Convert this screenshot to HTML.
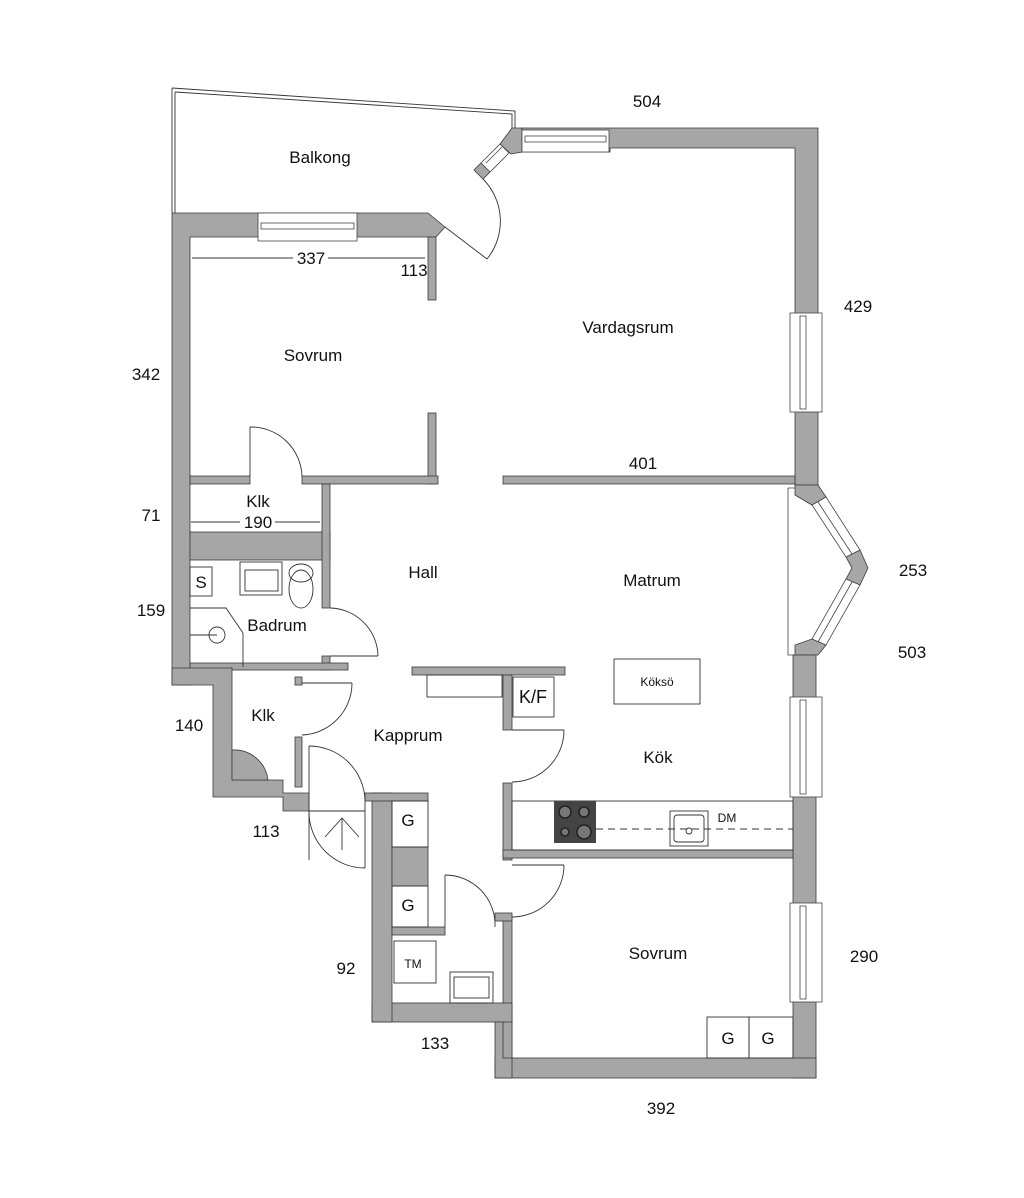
<!DOCTYPE html>
<html><head><meta charset="utf-8"><style>
html,body{margin:0;padding:0;background:#fff;}
svg{display:block;}
text{font-family:"Liberation Sans",sans-serif;fill:#111;}
</style></head><body>
<svg width="1024" height="1198" viewBox="0 0 1024 1198" xmlns="http://www.w3.org/2000/svg">
<!-- balcony rail (double thin line) -->
<g fill="none" stroke="#333" stroke-width="0.9">
<path d="M172 88 L515 111 L515 128"/>
<path d="M175 92 L512 114 L512 130"/>
<path d="M172 88 L172 213"/>
<path d="M175 92 L175 213"/>
</g>
<g fill="#a6a6a6" stroke="#3a3a3a" stroke-width="0.8">
<!-- top-left wall -->
<polygon points="172,213 428,213 445,227 436,237 190,237 190,685 172,685"/>
<rect x="428" y="237" width="8" height="63"/>
<rect x="428" y="413" width="8" height="71"/>
<!-- diagonal corner blocks -->
<polygon points="474,170 481,163 490,172 483,179"/>
<polygon points="500,144 512,128 522,128 522,152 511,154"/>
<!-- top right wall -->
<polygon points="522,128 818,128 818,485 795,485 795,148 610,148 610,152 522,152"/>
<!-- bay blocks -->
<polygon points="795,485 818,485 826,497 812,505 795,495"/>
<polygon points="846,557 860,550 868,568 860,585 846,579 852,568"/>
<polygon points="812,639 826,645 818,655 795,655 795,645"/>
<!-- right wall lower -->
<rect x="793" y="655" width="23" height="423"/>
<rect x="495" y="1058" width="321" height="20"/>
<rect x="495" y="1005" width="17" height="73"/>
<rect x="503" y="917" width="9" height="141"/>
<rect x="372" y="1003" width="140" height="19"/>
<rect x="372" y="793" width="20" height="229"/>
<rect x="365" y="793" width="63" height="8"/>
<rect x="392" y="847" width="36" height="39"/>
<rect x="392" y="927" width="53" height="8"/>
<rect x="495" y="913" width="17" height="8"/>
<!-- sovrum bottom walls -->
<rect x="190" y="476" width="60" height="8"/>
<rect x="302" y="476" width="136" height="8"/>
<rect x="503" y="476" width="292" height="8"/>
<!-- klk / badrum -->
<rect x="190" y="532" width="140" height="28"/>
<rect x="322" y="484" width="8" height="124"/>
<rect x="322" y="656" width="8" height="14"/>
<rect x="190" y="663" width="158" height="7"/>
<polygon points="172,685 172,668 232,668 232,780 283,780 283,793 309,793 309,811 283,811 283,797 213,797 213,685"/>
<rect x="295" y="677" width="7" height="8"/>
<rect x="295" y="737" width="7" height="50"/>
<path d="M232 750 A34 34 0 0 1 268 780 L232 780 Z"/>
<!-- hall/kapprum wall -->
<rect x="412" y="667" width="153" height="8"/>
<rect x="503" y="675" width="9" height="55"/>
<rect x="503" y="783" width="9" height="77"/>
<rect x="503" y="850" width="290" height="8"/>
</g>
<!-- windows -->
<g fill="#fff" stroke="#444" stroke-width="0.8">
<rect x="258" y="213" width="99" height="28"/>
<rect x="261" y="223" width="93" height="6"/>
<rect x="522" y="130" width="87" height="22"/>
<rect x="525" y="136" width="81" height="6"/>
<rect x="790" y="313" width="32" height="99"/>
<rect x="800" y="316" width="6" height="93"/>
<rect x="790" y="697" width="32" height="100"/>
<rect x="800" y="700" width="6" height="94"/>
<rect x="790" y="903" width="32" height="99"/>
<rect x="800" y="906" width="6" height="93"/>
<polygon points="812,505 826,497 860,550 846,557"/>
<line x1="818" y1="502" x2="852" y2="554"/>
<polygon points="846,579 860,585 826,645 812,639"/>
<line x1="852" y1="582" x2="818" y2="642"/>
<polygon points="481,163 500,144 509,153 490,172"/>
<line x1="486" y1="163" x2="502" y2="147"/>
<polyline points="795,488 788,488 788,655 795,655" fill="none"/>
</g>
<g fill="none" stroke="#333" stroke-width="0.9">
<!-- balcony door -->
<line x1="445" y1="227" x2="487" y2="259"/>
<path d="M483 179 A60 60 0 0 1 487 259"/>
<!-- sovrum door -->
<line x1="250" y1="476" x2="250" y2="427"/>
<path d="M250 427 A51 51 0 0 1 302 476"/>
<!-- badrum door -->
<line x1="330" y1="656" x2="378" y2="656"/>
<path d="M330 608 A49 49 0 0 1 378 656"/>
<!-- klk door -->
<line x1="302" y1="683" x2="352" y2="683"/>
<path d="M352 683 A52 52 0 0 1 302 735"/>
<!-- entry door -->
<line x1="309" y1="746" x2="309" y2="860"/>
<path d="M309 746 A56 56 0 0 1 365 800 L365 868"/>
<path d="M309 811 A56 56 0 0 0 365 868"/>
<line x1="309" y1="811" x2="365" y2="811"/>
<line x1="342" y1="818" x2="342" y2="850"/><polyline points="325,837 342,818 359,837"/>
<!-- kitchen door -->
<line x1="512" y1="730" x2="564" y2="730"/>
<path d="M564 730 A52 52 0 0 1 512 782"/>
<!-- sovrum door -->
<line x1="512" y1="865" x2="564" y2="865"/>
<path d="M564 865 A52 52 0 0 1 512 917"/>
<!-- wc door -->
<line x1="445" y1="875" x2="445" y2="927"/>
<path d="M445 875 A50 50 0 0 1 495 927"/>
<!-- dims -->
<line x1="192" y1="258" x2="293" y2="258"/><line x1="328" y1="258" x2="425" y2="258"/>
<line x1="191" y1="522" x2="240" y2="522"/><line x1="275" y1="522" x2="320" y2="522"/>
<!-- furniture -->
<rect x="190" y="567" width="22" height="29"/>
<rect x="240" y="562" width="42" height="33"/>
<rect x="245" y="570" width="33" height="21"/>
<ellipse cx="301" cy="589" rx="12" ry="19"/><ellipse cx="301" cy="573" rx="12" ry="9"/>
<polyline points="190,608 226,608 243,633 243,667"/>
<circle cx="217" cy="635" r="8"/><line x1="190" y1="635" x2="217" y2="635"/>
<rect x="427" y="675" width="75" height="22"/>
<rect x="513" y="677" width="41" height="40"/>
<rect x="614" y="659" width="86" height="45"/>
<rect x="512" y="801" width="281" height="49"/>
<line x1="596" y1="829" x2="793" y2="829" stroke-dasharray="7 5"/>
<rect x="670" y="811" width="38" height="35"/><rect x="674" y="815" width="30" height="27" rx="3"/>
<circle cx="689" cy="831" r="3"/>
<rect x="392" y="801" width="36" height="46"/>
<rect x="392" y="886" width="36" height="41"/>
<rect x="394" y="941" width="42" height="42"/>
<rect x="450" y="972" width="43" height="31"/><rect x="454" y="977" width="35" height="21"/>
<rect x="707" y="1017" width="42" height="41"/><rect x="749" y="1017" width="44" height="41"/>
</g>
<rect x="554" y="801" width="42" height="42" fill="#444"/>
<g fill="#777" stroke="#222" stroke-width="1.5">
<circle cx="565" cy="812" r="6"/><circle cx="584" cy="812" r="5"/><circle cx="565" cy="832" r="4"/><circle cx="584" cy="832" r="7"/>
</g>
<g font-size="17" text-anchor="middle">
<text x="320" y="163">Balkong</text>
<text x="313" y="361">Sovrum</text>
<text x="628" y="333">Vardagsrum</text>
<text x="423" y="578">Hall</text>
<text x="652" y="586">Matrum</text>
<text x="258" y="507">Klk</text>
<text x="277" y="631">Badrum</text>
<text x="263" y="721">Klk</text>
<text x="408" y="741">Kapprum</text>
<text x="658" y="763">Kök</text>
<text x="658" y="959">Sovrum</text>
<text x="533" y="703" font-size="18">K/F</text>
<text x="657" y="686" font-size="12">Köksö</text>
<text x="727" y="822" font-size="12">DM</text>
<text x="413" y="968" font-size="12">TM</text>
<text x="201" y="588">S</text>
<text x="408" y="826">G</text>
<text x="408" y="911">G</text>
<text x="728" y="1044">G</text>
<text x="768" y="1044">G</text>
<text x="647" y="107">504</text>
<text x="858" y="312">429</text>
<text x="146" y="380">342</text>
<text x="643" y="469">401</text>
<text x="151" y="521">71</text>
<text x="913" y="576">253</text>
<text x="151" y="616">159</text>
<text x="912" y="658">503</text>
<text x="189" y="731">140</text>
<text x="266" y="837">113</text>
<text x="346" y="974">92</text>
<text x="864" y="962">290</text>
<text x="435" y="1049">133</text>
<text x="661" y="1114">392</text>
<text x="311" y="264">337</text>
<text x="414" y="276">113</text>
<text x="258" y="528">190</text>
</g>
</svg>
</body></html>
